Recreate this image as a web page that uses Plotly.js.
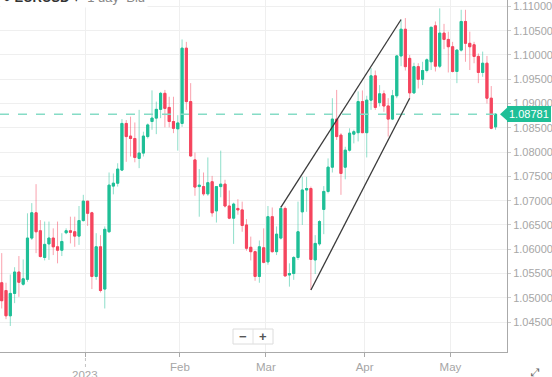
<!DOCTYPE html>
<html>
<head>
<meta charset="utf-8">
<script src="https://cdn.plot.ly/plotly-3.0.1.min.js"></script>
<style>html,body{margin:0;padding:0;background:#fff;}#chart{width:552px;height:377px;}</style>
</head>
<body>
<div id="chart"></div>
<script>
// Trading days (weekends removed)
const dates = [
 '2022-12-05','2022-12-06','2022-12-07','2022-12-08','2022-12-09',
 '2022-12-12','2022-12-13','2022-12-14','2022-12-15','2022-12-16',
 '2022-12-19','2022-12-20','2022-12-21','2022-12-22','2022-12-23',
 '2022-12-26','2022-12-27','2022-12-28','2022-12-29','2022-12-30',
 '2023-01-02','2023-01-03','2023-01-04','2023-01-05','2023-01-06',
 '2023-01-09','2023-01-10','2023-01-11','2023-01-12','2023-01-13',
 '2023-01-16','2023-01-17','2023-01-18','2023-01-19','2023-01-20',
 '2023-01-23','2023-01-24','2023-01-25','2023-01-26','2023-01-27',
 '2023-01-30','2023-01-31','2023-02-01','2023-02-02','2023-02-03',
 '2023-02-06','2023-02-07','2023-02-08','2023-02-09','2023-02-10',
 '2023-02-13','2023-02-14','2023-02-15','2023-02-16','2023-02-17',
 '2023-02-20','2023-02-21','2023-02-22','2023-02-23','2023-02-24',
 '2023-02-27','2023-02-28','2023-03-01','2023-03-02','2023-03-03',
 '2023-03-06','2023-03-07','2023-03-08','2023-03-09','2023-03-10',
 '2023-03-13','2023-03-14','2023-03-15','2023-03-16','2023-03-17',
 '2023-03-20','2023-03-21','2023-03-22','2023-03-23','2023-03-24',
 '2023-03-27','2023-03-28','2023-03-29','2023-03-30','2023-03-31',
 '2023-04-03','2023-04-04','2023-04-05','2023-04-06','2023-04-07',
 '2023-04-10','2023-04-11','2023-04-12','2023-04-13','2023-04-14',
 '2023-04-17','2023-04-18','2023-04-19','2023-04-20','2023-04-21',
 '2023-04-24','2023-04-25','2023-04-26','2023-04-27','2023-04-28',
 '2023-05-01','2023-05-02','2023-05-03','2023-05-04','2023-05-05',
 '2023-05-08','2023-05-09','2023-05-10','2023-05-11','2023-05-12',
 '2023-05-15'
];
const open = [
 1.0531,1.0515,1.0463,1.0509,1.0553, 1.0528,1.0538,1.0623,1.0675,1.0638,
 1.0583,1.0611,1.0623,1.0605,1.0598, 1.0634,1.0638,1.0636,1.0627,1.0659,
 1.0699,1.0675,1.0544,1.0605,1.0518, 1.0636,1.0730,1.0736,1.0763,1.0859,
 1.0833,1.0828,1.0787,1.0798,1.0832, 1.0863,1.0870,1.0888,1.0921,1.0892,
 1.0863,1.0848,1.0859,1.1014,1.0904, 1.0784,1.0729,1.0729,1.0714,1.0739,
 1.0679,1.0729,1.0734,1.0689,1.0664, 1.0684,1.0681,1.0650,1.0604,1.0595,
 1.0544,1.0603,1.0574,1.0667,1.0595, 1.0623,1.0684,1.0547,1.0550,1.0583,
 1.0677,1.0722,1.0725,1.0578,1.0611, 1.0682,1.0719,1.0769,1.0868,1.0835,
 1.0769,1.0804,1.0837,1.0840,1.0904, 1.0840,1.0907,1.0957,1.0902,1.0920,
 1.0895,1.0868,1.0916,1.0998,1.1053, 1.0993,1.0922,1.0976,1.0950,1.0968,
 1.0986,1.1060,1.0977,1.1045,1.1032, 1.1017,1.0966,1.1010,1.1069,1.1024,
 1.1021,1.0997,1.0964,1.0983,1.0911, 1.0852
];
const high = [
 1.0592,1.0531,1.0548,1.0563,1.0586, 1.0579,1.0674,1.0695,1.0734,1.0660,
 1.0657,1.0657,1.0643,1.0657,1.0633, 1.0643,1.0667,1.0667,1.0689,1.0712,
 1.0699,1.0677,1.0633,1.0629,1.0647, 1.0758,1.0756,1.0777,1.0868,1.0866,
 1.0873,1.0861,1.0887,1.0842,1.0859, 1.0927,1.0904,1.0924,1.0928,1.0914,
 1.0914,1.0876,1.1032,1.1027,1.0942, 1.0799,1.0765,1.0758,1.0789,1.0751,
 1.0730,1.0803,1.0743,1.0721,1.0696, 1.0703,1.0698,1.0662,1.0626,1.0597,
 1.0618,1.0643,1.0689,1.0686,1.0647, 1.0689,1.0688,1.0571,1.0586,1.0698,
 1.0749,1.0749,1.0729,1.0629,1.0660, 1.0730,1.0787,1.0911,1.0928,1.0839,
 1.0811,1.0849,1.0846,1.0925,1.0927, 1.0916,1.0973,1.0968,1.0938,1.0927,
 1.0911,1.0928,1.1000,1.1072,1.1076, 1.1000,1.0984,1.0983,1.0986,1.0993,
 1.1058,1.1069,1.1096,1.1064,1.1048, 1.1027,1.1012,1.1093,1.1093,1.1048,
 1.1027,1.1003,1.1007,1.0998,1.0936, 1.0880
];
const low = [
 1.0478,1.0456,1.0442,1.0489,1.0502, 1.0525,1.0533,1.0619,1.0592,1.0583,
 1.0577,1.0578,1.0588,1.0571,1.0586, 1.0631,1.0612,1.0605,1.0609,1.0657,
 1.0648,1.0518,1.0537,1.0511,1.0478, 1.0634,1.0713,1.0729,1.0761,1.0780,
 1.0791,1.0779,1.0767,1.0791,1.0828, 1.0846,1.0837,1.0870,1.0851,1.0851,
 1.0839,1.0803,1.0852,1.0887,1.0791, 1.0710,1.0667,1.0710,1.0710,1.0667,
 1.0655,1.0707,1.0686,1.0662,1.0611, 1.0671,1.0636,1.0597,1.0577,1.0535,
 1.0531,1.0571,1.0568,1.0593,1.0588, 1.0620,1.0544,1.0523,1.0537,1.0578,
 1.0650,1.0677,1.0516,1.0549,1.0607, 1.0631,1.0715,1.0758,1.0825,1.0712,
 1.0744,1.0801,1.0818,1.0822,1.0839, 1.0789,1.0887,1.0887,1.0894,1.0883,
 1.0832,1.0866,1.0911,1.0977,1.0968, 1.0911,1.0920,1.0931,1.0938,1.0964,
 1.0969,1.0966,1.0973,1.1012,1.0964, 1.0964,1.0942,1.1007,1.0986,1.0969,
 1.0983,1.0942,1.0955,1.0900,1.0847, 1.0846
];
const close = [
 1.0494,1.0463,1.0509,1.0553,1.0532, 1.0539,1.0623,1.0675,1.0636,1.0585,
 1.0610,1.0623,1.0605,1.0598,1.0616, 1.0638,1.0635,1.0627,1.0659,1.0699,
 1.0674,1.0544,1.0605,1.0515,1.0641, 1.0732,1.0736,1.0765,1.0859,1.0832,
 1.0828,1.0789,1.0798,1.0833,1.0856, 1.0870,1.0888,1.0921,1.0890,1.0863,
 1.0849,1.0860,1.1014,1.0904,1.0792, 1.0728,1.0732,1.0714,1.0737,1.0675,
 1.0729,1.0734,1.0689,1.0664,1.0693, 1.0681,1.0649,1.0602,1.0595,1.0544,
 1.0605,1.0573,1.0667,1.0595,1.0631, 1.0684,1.0545,1.0550,1.0583,1.0636,
 1.0722,1.0725,1.0579,1.0612,1.0657, 1.0719,1.0769,1.0868,1.0832,1.0756,
 1.0804,1.0839,1.0842,1.0904,1.0840, 1.0907,1.0957,1.0892,1.0920,1.0895,
 1.0868,1.0916,1.0998,1.1053,1.0976, 1.0922,1.0976,1.0950,1.0968,1.0990,
 1.1057,1.0977,1.1045,1.1032,1.1017, 1.0966,1.1010,1.1069,1.1024,1.1017,
 1.0997,1.0964,1.0983,1.0911,1.0849, 1.08781
];
const lastPrice = 1.08781;
// Trend channel drawn on the chart: [start date, start price, end date, end price]
const channelUpper = ['2023-03-06 12:00', 1.0686, '2023-04-13 12:00', 1.1073];
const channelLower = ['2023-03-15 12:00', 1.0516, '2023-04-17 12:00', 1.0911];
// Axis ticks
const xTickDates = ['2023-01-02','2023-02-01','2023-03-01','2023-04-03','2023-05-01'];
const xTickLabels = ['','Feb','Mar','Apr','May'];
const yearLabel = '2023';
const yTickVals = [1.045,1.05,1.055,1.06,1.065,1.07,1.075,1.08,1.085,1.09,1.095,1.10,1.105,1.11];

const GREEN = '#1fbf97', GREEN_L = 'rgba(31,191,151,0.5)';
const RED = '#f5455e', RED_L = 'rgba(245,69,94,0.5)';

const xMid = dates.map(d => d + ' 12:00');
const bodyHi = open.map((o,i) => Math.max(o, close[i]));
const bodyLo = open.map((o,i) => Math.min(o, close[i]));

const wicks = {
  type: 'candlestick', x: xMid, open: open, high: high, low: low, close: close,
  increasing: {line: {color: GREEN_L, width: 1}, fillcolor: GREEN_L},
  decreasing: {line: {color: RED_L, width: 1}, fillcolor: RED_L},
  whiskerwidth: 0, hoverinfo: 'skip', showlegend: false
};
const bodies = {
  type: 'candlestick', x: xMid, open: open, high: bodyHi, low: bodyLo, close: close,
  increasing: {line: {color: GREEN, width: 1}, fillcolor: GREEN},
  decreasing: {line: {color: RED, width: 1}, fillcolor: RED},
  whiskerwidth: 0, hoverinfo: 'skip', showlegend: false
};

const W = 507, H = 352;
const px = x => x / W, py = y => 1 - y / H;
const FONT = 'Liberation Sans, Arial, sans-serif';

const shapes = [
  {type:'line', xref:'paper', yref:'y', x0:0, x1:1, y0:lastPrice, y1:lastPrice,
   line:{color:'#86dcc6', width:1.5, dash:'dash'}},
  {type:'line', xref:'x', yref:'y', x0:channelUpper[0], y0:channelUpper[1], x1:channelUpper[2], y1:channelUpper[3],
   line:{color:'#3a3a3a', width:1.3}},
  {type:'line', xref:'x', yref:'y', x0:channelLower[0], y0:channelLower[1], x1:channelLower[2], y1:channelLower[3],
   line:{color:'#3a3a3a', width:1.3}},
  {type:'path', xref:'paper', yref:'y',
   path:`M ${px(500)} ${lastPrice} L ${px(507)} ${lastPrice+0.0013} L ${px(507)} ${lastPrice-0.0013} Z`,
   fillcolor:GREEN, line:{width:0}},
  {type:'rect', xref:'paper', yref:'paper', x0:px(233), x1:px(273), y0:py(344), y1:py(329),
   fillcolor:'#ffffff', line:{color:'#dcdcdc', width:1}},
  {type:'line', xref:'paper', yref:'paper', x0:px(253), x1:px(253), y0:py(344), y1:py(329),
   line:{color:'#e2e2e2', width:1}},
  {type:'line', xref:'x', yref:'paper', x0:xTickDates[0], x1:xTickDates[0], y0:py(358), y1:py(367.5),
   line:{color:'#c4c4c4', width:1, dash:'dot'}}
];

const annotations = [
  {xref:'paper', yref:'y', x:1, y:lastPrice, xanchor:'left', yanchor:'middle', showarrow:false,
   text:'1.08781', font:{family:FONT, size:11, color:'#ffffff'}, bgcolor:GREEN, bordercolor:GREEN,
   borderpad:1},
  {xref:'paper', yref:'paper', x:0, y:1, xanchor:'left', yanchor:'bottom', yshift:-8, showarrow:false,
   text:'<span style="color:#333">●</span> <b style="color:#333">EURUSD</b><span style="color:#333"> ▾ </span> <span style="color:#888">1 day  Bid</span>',
   font:{family:FONT, size:13, color:'#888'}, bgcolor:'#ffffff', borderpad:2},
  {xref:'paper', yref:'paper', x:px(243.3), y:py(336.5), xanchor:'center', yanchor:'middle', showarrow:false, text:'<b>−</b>',
   font:{family:FONT, size:13, color:'#555'}},
  {xref:'paper', yref:'paper', x:px(263.3), y:py(336.5), xanchor:'center', yanchor:'middle', showarrow:false, text:'<b>+</b>',
   font:{family:FONT, size:13, color:'#555'}},
  {xref:'x', yref:'paper', x:xTickDates[0], y:py(375), xanchor:'center', yanchor:'middle', showarrow:false,
   text:yearLabel, font:{family:FONT, size:11.5, color:'#a6a6a6'}},
  {xref:'paper', yref:'paper', x:px(535), y:py(372), xanchor:'center', yanchor:'middle', showarrow:false, text:'⤢',
   font:{family:'DejaVu Sans', size:11, color:'#666'}}
];

const layout = {
  width: 552, height: 377,
  margin: {l:0, r:45, t:0, b:25},
  paper_bgcolor: '#ffffff', plot_bgcolor: '#ffffff',
  showlegend: false, hovermode: false,
  xaxis: {
    type: 'date',
    range: ['2022-12-05 02:24', '2023-05-18 04:00'],
    rangebreaks: [{bounds: ['sat', 'mon']}],
    rangeslider: {visible: false},
    tickmode: 'array', tickvals: xTickDates, ticktext: xTickLabels,
    showgrid: true, gridcolor: '#efefef', gridwidth: 1,
    showline: true, linecolor: '#aaaaaa', linewidth: 1,
    ticks: 'outside', ticklen: 4, tickcolor: '#aaaaaa',
    tickfont: {family: FONT, size: 11.5, color: '#a6a6a6'},
    zeroline: false, fixedrange: true
  },
  yaxis: {
    side: 'right',
    range: [1.03884, 1.11132],
    tickmode: 'array', tickvals: yTickVals, tickformat: '.5f',
    showgrid: true, gridcolor: '#efefef', gridwidth: 1,
    showline: true, linecolor: '#aaaaaa', linewidth: 1,
    ticks: 'outside', ticklen: 3, tickcolor: '#cccccc',
    tickfont: {family: FONT, size: 11, color: '#a6a6a6'},
    zeroline: false, fixedrange: true
  },
  shapes: shapes,
  annotations: annotations,
  boxgap: 0.3
};

Plotly.newPlot('chart', [wicks, bodies], layout, {displayModeBar: false, staticPlot: true});
</script>
</body>
</html>
